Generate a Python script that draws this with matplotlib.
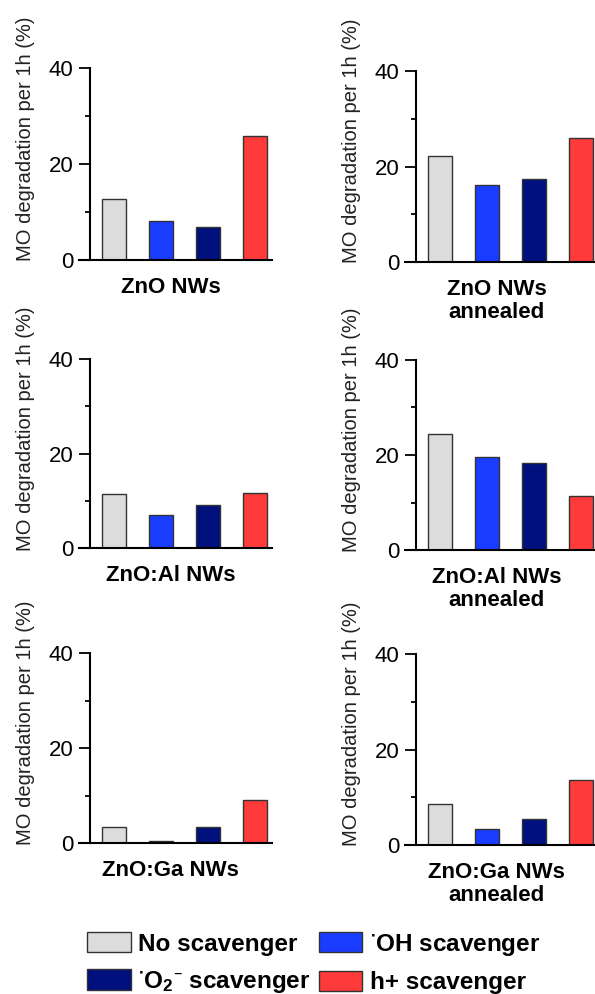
import matplotlib
matplotlib.use("Agg")
import matplotlib.pyplot as plt
from matplotlib.ticker import MultipleLocator

plt.rcParams["font.family"] = ["Liberation Sans", "DejaVu Sans"]
plt.rcParams["mathtext.default"] = "regular"

SCAVENGERS = ["No scavenger",
              r"$^{\bullet}$OH scavenger",
              r"$^{\bullet}$O$_2$$^{\mathbf{–}}$ scavenger",
              "h+ scavenger"]
COLORS = ["#dcdcdc", "#1a3cff", "#00107d", "#ff3a3a"]

PANEL_TITLES = ["ZnO NWs", "ZnO NWs\nannealed",
                "ZnO:Al NWs", "ZnO:Al NWs\nannealed",
                "ZnO:Ga NWs", "ZnO:Ga NWs\nannealed"]

zno = [12.7, 8.1, 6.9, 25.8]
zno_annealed = [22.2, 16.1, 17.4, 26.0]
zno_al = [11.4, 7.0, 9.1, 11.6]
zno_al_annealed = [24.4, 19.6, 18.3, 11.4]
zno_ga = [3.4, 0.4, 3.3, 9.0]
zno_ga_annealed = [8.6, 3.4, 5.4, 13.6]

PANEL_VALUES = [zno, zno_annealed, zno_al, zno_al_annealed,
                zno_ga, zno_ga_annealed]

W, H = 595, 994
# axes boxes in pixels: left, top, right, bottom
BOXES = [(90, 68, 272, 260), (416, 71, 598, 262),
         (90, 359, 272, 548), (416, 360, 598, 550),
         (90, 653, 272, 843), (416, 654, 598, 845)]


def main():
    fig = plt.figure(figsize=(W / 100, H / 100), dpi=100)
    x = list(range(len(SCAVENGERS)))
    handles = None

    for (l, t, r, b), vals, title in zip(BOXES, PANEL_VALUES, PANEL_TITLES):
        ax = fig.add_axes([l / W, 1 - b / H, (r - l) / W, (b - t) / H])
        bars = ax.bar(x, vals, width=0.51, color=COLORS,
                      edgecolor="#333333", linewidth=1, zorder=3)
        if handles is None:
            handles = list(bars)

        ax.set_xlim(-0.51, 3.36)
        ax.set_ylim(0, 40)
        for s in ("top", "right", "bottom"):
            ax.spines[s].set_visible(False)
        ax.spines["left"].set_linewidth(1.5)
        ax.set_xticks([])
        ax.yaxis.set_major_locator(MultipleLocator(20))
        ax.yaxis.set_minor_locator(MultipleLocator(10))
        ax.tick_params(axis="y", which="major", length=8, width=1.3,
                       labelsize=16, pad=4)
        ax.tick_params(axis="y", which="minor", length=3.6, width=1.3)
        ax.axhline(0, xmin=-11 / (r - l), xmax=1, color="black", lw=1.5,
                   clip_on=False, zorder=4)

        ax.set_ylabel("MO degradation per 1h (%)", fontsize=14.5,
                      color="#222222")
        ax.yaxis.set_label_coords(-0.30, 0.633)

        ax.annotate(title, xy=(1.2, 0), xycoords="data",
                    xytext=(0, -12), textcoords="offset points",
                    ha="center", va="top", fontsize=16, fontweight="bold",
                    linespacing=1.15)

    order = [0, 2, 1, 3]
    fig.legend([handles[i] for i in order], [SCAVENGERS[i] for i in order],
               loc="center", bbox_to_anchor=(0.527, 0.031), ncol=2,
               frameon=False, prop={"size": 17.5, "weight": "bold"},
               handlelength=1.8, handleheight=0.9, handletextpad=0.3,
               columnspacing=0.33, labelspacing=0.55, borderpad=0)

    fig.savefig("out.png", dpi=100)
    plt.close(fig)


if __name__ == "__main__":
    main()
